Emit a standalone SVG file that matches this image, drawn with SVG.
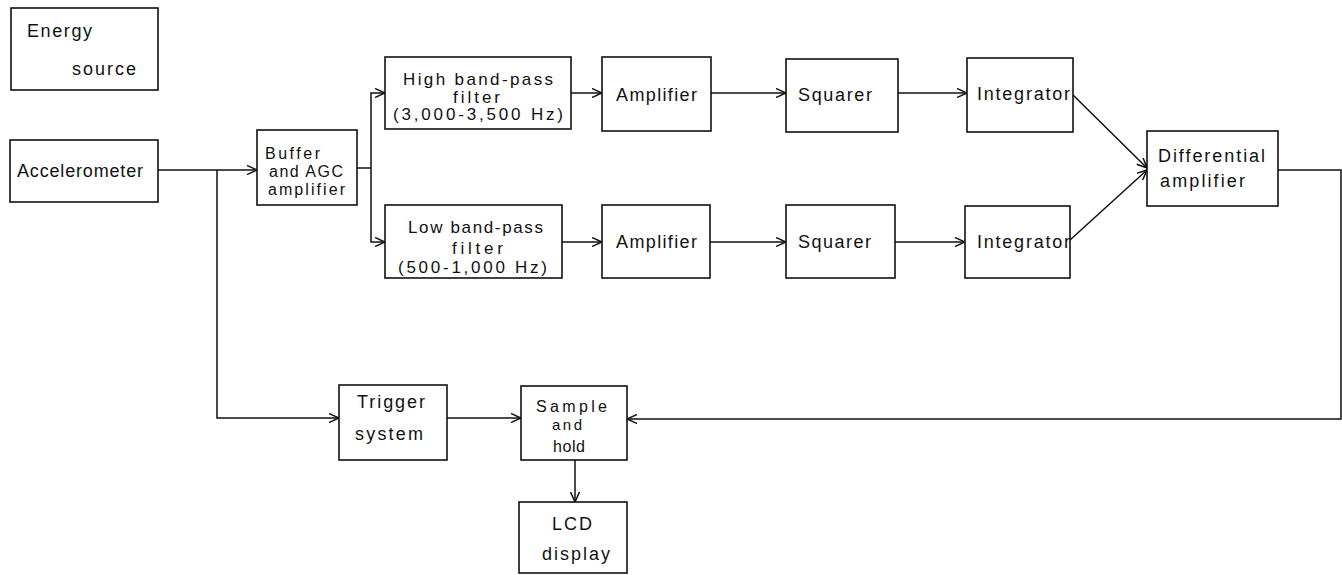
<svg xmlns="http://www.w3.org/2000/svg" width="1342" height="575" viewBox="0 0 1342 575">
<style>
.b{fill:#fff;stroke:#111;stroke-width:1.6}
.c{fill:none;stroke:#111;stroke-width:1.5}
.a{marker-end:url(#ah)}
text{font-family:"Liberation Sans",Arial,sans-serif;font-size:18px;fill:#111;text-anchor:start}
.s{font-size:17px}
.t{font-size:16px}
.u{font-size:15px}
</style>
<defs>
<marker id="ah" viewBox="0 0 10 10" refX="10" refY="5" markerWidth="10" markerHeight="10" markerUnits="userSpaceOnUse" orient="auto">
<path d="M0,0.5 L10,5 L0,9.5" fill="none" stroke="#111" stroke-width="1.5"/>
</marker>
</defs>
<rect width="1342" height="575" fill="#fff"/>
<g id="connectors">
<path class="c a" d="M158,170 H257"/>
<path class="c a" d="M217,170 V418 H339"/>
<path class="c" d="M357,168 H371"/>
<path class="c a" d="M371,168 V93 H385"/>
<path class="c a" d="M371,168 V242 H385"/>
<path class="c a" d="M571,93 H602"/>
<path class="c a" d="M711,93 H786"/>
<path class="c a" d="M898,93 H967"/>
<path class="c a" d="M562,242 H602"/>
<path class="c a" d="M710,242 H786"/>
<path class="c a" d="M895,242 H965"/>
<path class="c a" d="M1073,95 L1147,168"/>
<path class="c a" d="M1070,240 L1147,170"/>
<path class="c a" d="M1278,170 H1341 V419 H627"/>
<path class="c a" d="M447,418 H521"/>
<path class="c a" d="M575,460 V502"/>
</g>
<g id="energy"><rect class="b" x="11" y="8" width="147" height="82"/><text x="27" y="37" textLength="65" lengthAdjust="spacing">Energy</text><text x="72" y="75" textLength="64" lengthAdjust="spacing">source</text></g>
<g id="accel"><rect class="b" x="10" y="140" width="148" height="62"/><text x="17" y="177" textLength="126" lengthAdjust="spacing">Accelerometer</text></g>
<g id="buffer"><rect class="b" x="257" y="130" width="100" height="75"/><text class="t" x="265" y="159" textLength="55" lengthAdjust="spacing">Buffer</text><text class="t" x="269" y="177" textLength="74" lengthAdjust="spacing">and AGC</text><text class="t" x="268" y="195" textLength="77" lengthAdjust="spacing">amplifier</text></g>
<g id="highbpf"><rect class="b" x="385" y="57" width="186" height="72"/><text class="s" x="403" y="85" textLength="150" lengthAdjust="spacing">High band-pass</text><text class="s" x="453" y="103" textLength="47" lengthAdjust="spacing">filter</text><text class="s" x="393" y="120" textLength="170" lengthAdjust="spacing">(3,000-3,500 Hz)</text></g>
<g id="amp1"><rect class="b" x="602" y="57" width="109" height="74"/><text x="616" y="101" textLength="81" lengthAdjust="spacing">Amplifier</text></g>
<g id="sq1"><rect class="b" x="786" y="59" width="112" height="73"/><text x="798" y="101" textLength="74" lengthAdjust="spacing">Squarer</text></g>
<g id="int1"><rect class="b" x="967" y="58" width="106" height="74"/><text x="977" y="100" textLength="93" lengthAdjust="spacing">Integrator</text></g>
<g id="diff"><rect class="b" x="1147" y="131" width="131" height="75"/><text x="1158" y="162" textLength="107" lengthAdjust="spacing">Differential</text><text x="1160" y="187" textLength="85" lengthAdjust="spacing">amplifier</text></g>
<g id="lowbpf"><rect class="b" x="385" y="205" width="177" height="73"/><text class="s" x="408" y="233" textLength="135" lengthAdjust="spacing">Low band-pass</text><text class="s" x="452" y="254" textLength="51" lengthAdjust="spacing">filter</text><text class="s" x="398" y="273" textLength="149" lengthAdjust="spacing">(500-1,000 Hz)</text></g>
<g id="amp2"><rect class="b" x="602" y="205" width="108" height="73"/><text x="616" y="248" textLength="81" lengthAdjust="spacing">Amplifier</text></g>
<g id="sq2"><rect class="b" x="786" y="205" width="109" height="73"/><text x="798" y="248" textLength="73" lengthAdjust="spacing">Squarer</text></g>
<g id="int2"><rect class="b" x="965" y="206" width="105" height="72"/><text x="977" y="248" textLength="93" lengthAdjust="spacing">Integrator</text></g>
<g id="trigger"><rect class="b" x="339" y="385" width="108" height="75"/><text x="357" y="408" textLength="68" lengthAdjust="spacing">Trigger</text><text x="355" y="440" textLength="68" lengthAdjust="spacing">system</text></g>
<g id="sh"><rect class="b" x="521" y="386" width="106" height="74"/><text class="t" x="536" y="412" textLength="71" lengthAdjust="spacing">Sample</text><text class="u" x="552" y="430" textLength="30" lengthAdjust="spacing">and</text><text class="t" x="553" y="452" textLength="32" lengthAdjust="spacing">hold</text></g>
<g id="lcd"><rect class="b" x="519" y="502" width="108" height="71"/><text x="552" y="530" textLength="40" lengthAdjust="spacing">LCD</text><text x="542" y="560" textLength="68" lengthAdjust="spacing">display</text></g>
</svg>
